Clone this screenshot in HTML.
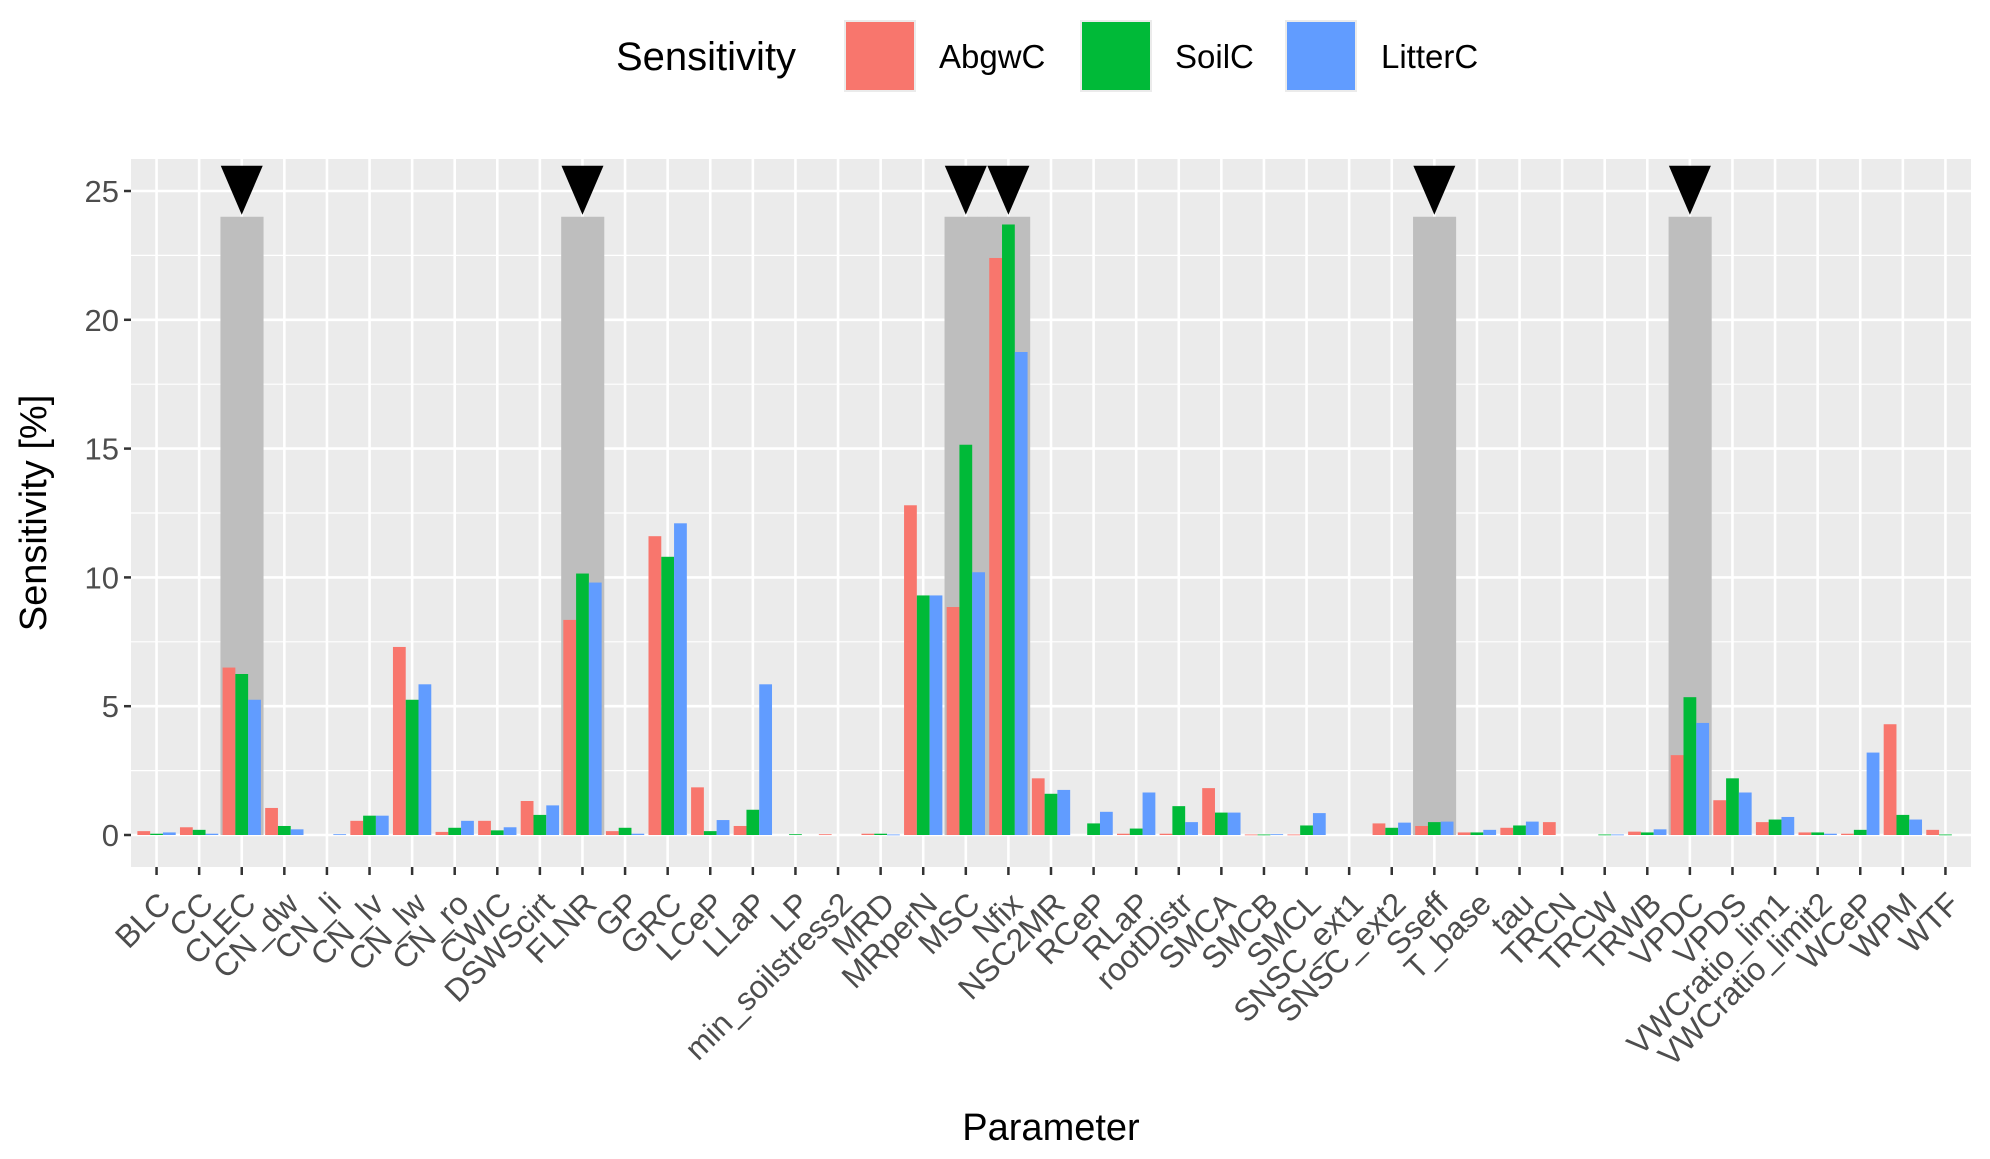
<!DOCTYPE html>
<html><head><meta charset="utf-8"><style>
html,body{margin:0;padding:0;background:#fff;}
svg{display:block;font-family:"Liberation Sans",Arial,sans-serif;}
</style></head><body>
<svg id="chart" width="1990" height="1159" viewBox="0 0 1990 1159" xmlns="http://www.w3.org/2000/svg">
<rect x="131" y="159" width="1840" height="708" fill="#ebebeb"/>
<g id="grid"></g><g id="hl"></g><g id="bars"></g><g id="axes"></g>
<text x="616" y="70" font-size="40" fill="#000">Sensitivity</text>
<g><rect x="845" y="21" width="70" height="70" fill="#F8766D" stroke="#ebebeb" stroke-width="2"/><text x="939" y="68" font-size="33">AbgwC</text></g>
<g><rect x="1081" y="21" width="70" height="70" fill="#00BA38" stroke="#ebebeb" stroke-width="2"/><text x="1175" y="68" font-size="33">SoilC</text></g>
<g><rect x="1286" y="21" width="70" height="70" fill="#619CFF" stroke="#ebebeb" stroke-width="2"/><text x="1381" y="68" font-size="33">LitterC</text></g>
<text x="1051" y="1140" font-size="38" text-anchor="middle">Parameter</text>
<text transform="translate(46,513) rotate(-90)" font-size="38" text-anchor="middle">Sensitivity [%]</text>
</svg>
<script>
const categories=["BLC","CC","CLEC","CN_dw","CN_li","CN_lv","CN_lw","CN_ro","CWIC","DSWScirt","FLNR","GP","GRC","LCeP","LLaP","LP","min_soilstress2","MRD","MRperN","MSC","Nfix","NSC2MR","RCeP","RLaP","rootDistr","SMCA","SMCB","SMCL","SNSC_ext1","SNSC_ext2","Sseff","T_base","tau","TRCN","TRCW","TRWB","VPDC","VPDS","VWCratio_lim1","VWCratio_limit2","WCeP","WPM","WTF"];
const abgwC=[0.15,0.3,6.5,1.05,0,0.55,7.3,0.12,0.55,1.32,8.35,0.15,11.6,1.85,0.35,0,0.03,0.05,12.8,8.85,22.4,2.2,0,0.05,0.05,1.82,0.02,0.02,0,0.45,0.35,0.1,0.28,0.5,0,0.13,3.1,1.35,0.5,0.1,0.05,4.3,0.2];
const soilC=[0.05,0.2,6.25,0.35,0,0.75,5.25,0.28,0.18,0.78,10.15,0.28,10.8,0.15,0.98,0.03,0,0.05,9.3,15.15,23.7,1.6,0.45,0.25,1.12,0.87,0.02,0.37,0,0.28,0.5,0.1,0.37,0,0.02,0.1,5.35,2.2,0.6,0.1,0.2,0.78,0.02];
const litterC=[0.1,0.05,5.25,0.22,0.03,0.75,5.85,0.55,0.3,1.15,9.8,0.05,12.1,0.58,5.85,0,0,0.02,9.3,10.2,18.75,1.75,0.9,1.65,0.5,0.87,0.03,0.85,0,0.48,0.52,0.2,0.52,0,0.02,0.22,4.35,1.65,0.7,0.05,3.2,0.6,0];
const highlighted=["CLEC","FLNR","MSC","Nfix","Sseff","VPDC"];
const highlightTop=24;
const yTicks=[0,5,10,15,20,25];
const series=[abgwC,soilC,litterC];
const seriesNames=["abgwc","soilc","litterc"];
const colors=["#F8766D","#00BA38","#619CFF"];
const NS="http://www.w3.org/2000/svg";
const L=131,R=1971,T=159,B=867;
const unit=(R-L)/(categories.length+0.2);
const xs=i=>L+(i+0.6)*unit;
const ys=v=>835-v*(835-191)/25;
function mk(tag,attrs,parent){const e=document.createElementNS(NS,tag);for(const k in attrs)e.setAttribute(k,attrs[k]);parent.appendChild(e);return e;}
const grid=document.getElementById('grid'),hl=document.getElementById('hl'),bars=document.getElementById('bars'),axes=document.getElementById('axes');
for(let v=2.5;v<26;v+=5){const l=mk('line',{x1:L,x2:R,y1:ys(v),y2:ys(v),stroke:'#fff','stroke-width':1.2},grid);

}
yTicks.forEach(v=>{const l=mk('line',{x1:L,x2:R,y1:ys(v),y2:ys(v),stroke:'#fff','stroke-width':2.6},grid);


const t=mk('line',{x1:L-7,x2:L,y1:ys(v),y2:ys(v),stroke:'#333','stroke-width':2.5},axes);


const tx=mk('text',{x:L-12,y:ys(v)+11,'font-size':31,fill:'#4d4d4d','text-anchor':'end'},axes);
tx.textContent=v;

});
categories.forEach((c,i)=>{const x=xs(i);
const g=mk('line',{x1:x,x2:x,y1:T,y2:B,stroke:'#fff','stroke-width':2.6},grid);


if(highlighted.includes(c)){const r=mk('rect',{x:x-unit/2,y:ys(highlightTop),width:unit+0.5,height:ys(0)-ys(highlightTop),fill:'#bebebe'},hl);


const tri=mk('polygon',{points:`${x-21},${ys(highlightTop)-51} ${x+21},${ys(highlightTop)-51} ${x},${ys(highlightTop)-2}`,fill:'#000'},hl);

}
const bw=unit*0.9/3;
series.forEach((s,k)=>{const v=s[i];if(v<=0)return;const b=mk('rect',{x:x-unit*0.45+k*bw,y:ys(v),width:bw,height:Math.max(ys(0)-ys(v),0.8),fill:colors[k]},bars);

});
const t=mk('line',{x1:x,x2:x,y1:B,y2:B+8,stroke:'#333','stroke-width':2.5},axes);


const tx=mk('text',{transform:`translate(${x+16},906) rotate(-45)`,'font-size':32,fill:'#4d4d4d','text-anchor':'end'},axes);
tx.textContent=c;

});
</script>
</body></html>
